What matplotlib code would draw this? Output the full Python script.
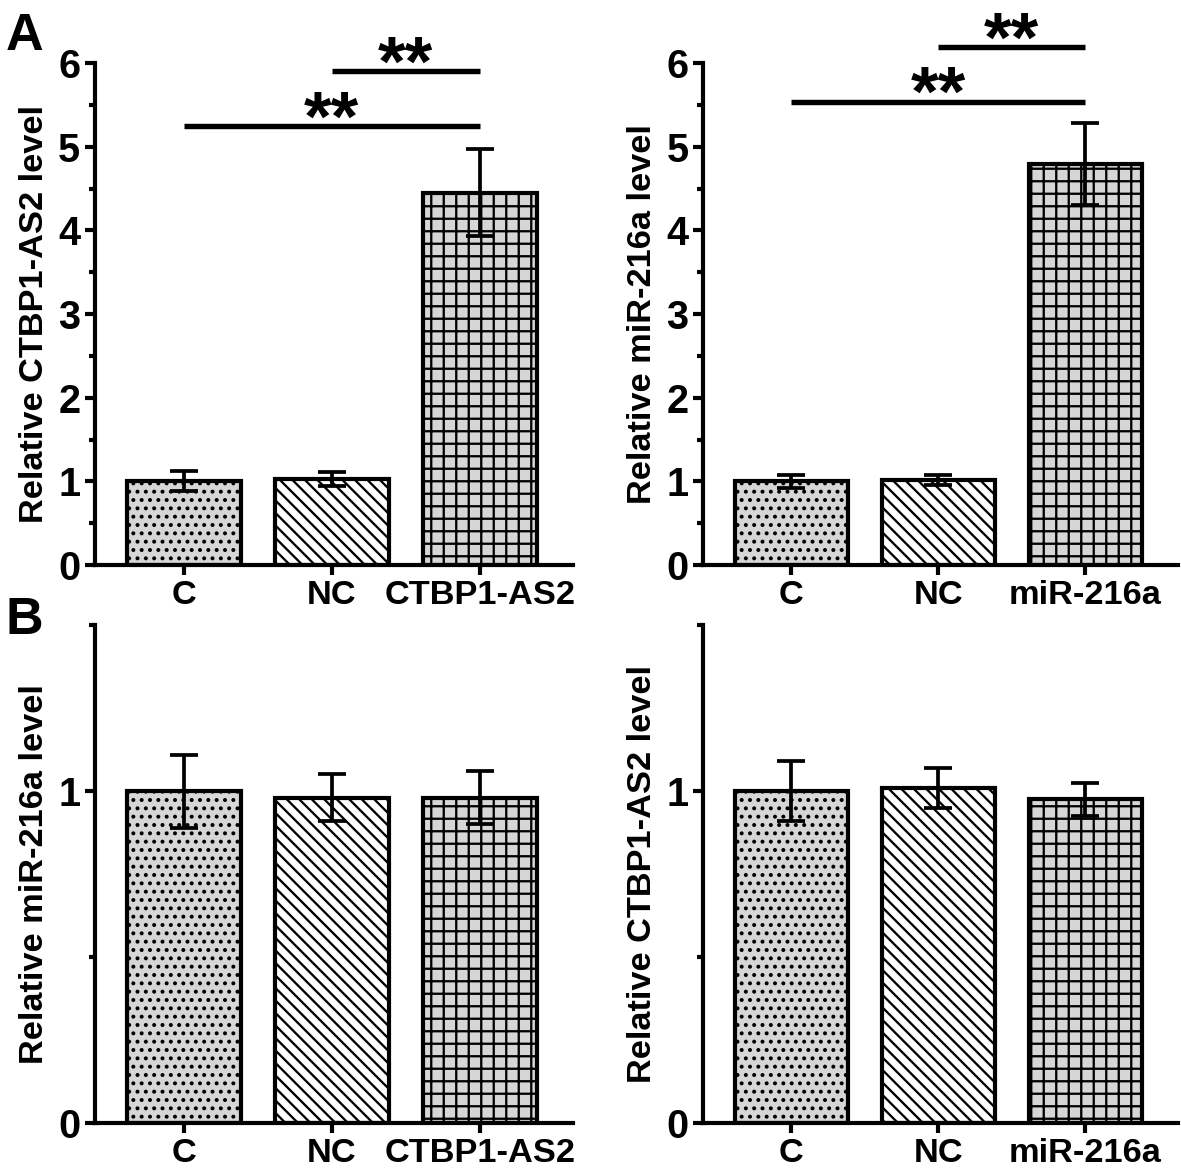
import numpy as np
import matplotlib
matplotlib.use("Agg")
import matplotlib.pyplot as plt

# Data
groups_ctbp = ["C", "NC", "CTBP1-AS2"]
groups_mir = ["C", "NC", "miR-216a"]

a1_mean = [1.00, 1.03, 4.45]   # Relative CTBP1-AS2 level (overexpression)
a1_err = [0.12, 0.08, 0.52]
a2_mean = [1.00, 1.02, 4.79]   # Relative miR-216a level (overexpression)
a2_err = [0.08, 0.06, 0.49]
b1_mean = [1.00, 0.98, 0.98]   # Relative miR-216a level
b1_err = [0.11, 0.07, 0.08]
b2_mean = [1.00, 1.01, 0.975]  # Relative CTBP1-AS2 level
b2_err = [0.09, 0.06, 0.05]

# significance bars: (from, to, height)
a1_sig = [(0, 2, 5.25), (1, 2, 5.9)]
a2_sig = [(0, 2, 5.54), (1, 2, 6.19)]

plt.rcParams['font.family'] = ['Liberation Sans', 'DejaVu Sans']
plt.rcParams['font.weight'] = 'bold'
plt.rcParams['hatch.linewidth'] = 1.1

fills = ['#d6d6d6', 'white', '#d6d6d6']
back = chr(92)  # backslash hatch
hatches = ['...', back * 4, '++']

fig = plt.figure(figsize=(1181 / 150, 1174 / 150), dpi=150)


def panel(rect, labels, means, errs, ylabel, ymax, major, sig=None):
    ax = fig.add_axes(rect)
    x = np.arange(len(labels))
    ax.bar(x, means, width=0.77, color=fills, edgecolor='black',
           linewidth=2.0, hatch=hatches, zorder=2)
    ax.errorbar(x, means, yerr=errs, fmt='none', ecolor='black',
                elinewidth=1.8, capsize=6.5, capthick=1.8, zorder=3)
    ax.set_xlim(-0.6, 2.63)
    ax.set_ylim(0, ymax)
    ax.set_yticks(major)
    ax.set_yticks(np.arange(0.5, ymax + 0.01, 1.0), minor=True)
    ax.set_xticks(x)
    ax.set_xticklabels(labels, fontsize=16.5, fontweight='bold')
    ax.set_ylabel(ylabel, fontsize=16.5, fontweight='bold', labelpad=4)
    for lab in ax.get_yticklabels():
        lab.set_fontsize(19)
        lab.set_fontweight('bold')
    for side in ['top', 'right']:
        ax.spines[side].set_visible(False)
    for side in ['left', 'bottom']:
        ax.spines[side].set_linewidth(2.0)
    ax.tick_params(axis='both', which='major', length=5, width=2.0, pad=2)
    ax.tick_params(axis='y', which='minor', length=3, width=2.0)
    ax.tick_params(axis='x', which='major', length=5, pad=2)
    if sig:
        for i, j, h in sig:
            ax.plot([i, j], [h, h], color='black', lw=2.6, clip_on=False,
                    solid_capstyle='butt')
            ax.annotate('**', xy=((i + j) / 2, h), xytext=(0, -7),
                        textcoords='offset points', ha='center',
                        va='baseline', fontsize=34, fontweight='bold',
                        annotation_clip=False)
    return ax


panel([0.0804, 0.5187, 0.405, 0.4276], groups_ctbp, a1_mean, a1_err,
      'Relative CTBP1-AS2 level', 6, range(0, 7), a1_sig)
panel([0.5953, 0.5187, 0.402, 0.4276], groups_mir, a2_mean, a2_err,
      'Relative miR-216a level', 6, range(0, 7), a2_sig)
panel([0.0804, 0.0434, 0.405, 0.4242], groups_ctbp, b1_mean, b1_err,
      'Relative miR-216a level', 1.5, [0, 1])
panel([0.5953, 0.0434, 0.402, 0.4242], groups_mir, b2_mean, b2_err,
      'Relative CTBP1-AS2 level', 1.5, [0, 1])

fig.text(0.005, 0.99, 'A', fontsize=25, fontweight='bold', va='top')
fig.text(0.005, 0.492, 'B', fontsize=25, fontweight='bold', va='top')

fig.savefig('out.png', dpi=150)
